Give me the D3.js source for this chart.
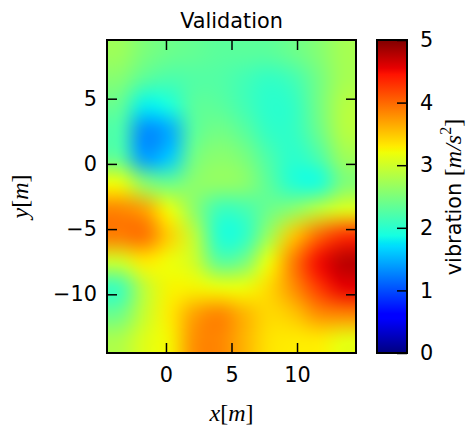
<!DOCTYPE html>
<html>
<head>
<meta charset="utf-8">
<script src="https://cdn.jsdelivr.net/npm/d3@7"></script>
<style>
body{margin:0;background:#fff}
text{font-family:"DejaVu Sans",sans-serif;fill:#000}
.math{font-family:"Liberation Serif",serif}
</style>
</head>
<body>
<svg id="chart" width="467" height="428"></svg>
<script>
// grid of vibration values (cell centres)
var xCenters = [-3.55, -1.65, 0.25, 2.15, 4.05, 5.95, 7.85, 9.75, 11.65, 13.55];
var yCenters = [8.5, 6.5, 4.5, 2.5, 0.5, -1.5, -3.5, -5.5, -7.5, -9.5, -11.5, -13.5];
var vibration = [
  [2.70, 2.50, 2.40, 2.35, 2.30, 2.30, 2.30, 2.40, 2.55, 2.75],
  [2.55, 2.30, 2.20, 2.25, 2.25, 2.15, 2.05, 2.15, 2.45, 2.75],
  [2.35, 1.80, 1.90, 2.30, 2.30, 2.15, 2.00, 2.05, 2.45, 2.85],
  [2.20, 1.30, 1.45, 2.30, 2.45, 2.30, 2.05, 2.05, 2.40, 2.85],
  [2.30, 1.40, 1.60, 2.45, 2.60, 2.50, 2.20, 2.00, 2.20, 2.70],
  [3.20, 2.60, 2.40, 2.60, 2.65, 2.60, 2.30, 1.95, 1.90, 2.50],
  [3.85, 3.70, 3.20, 2.60, 2.10, 2.15, 2.40, 2.60, 2.90, 3.10],
  [3.90, 3.95, 3.45, 2.90, 1.95, 2.00, 2.70, 3.50, 4.00, 4.30],
  [3.00, 3.30, 3.20, 3.00, 2.30, 2.45, 3.20, 3.90, 4.50, 4.75],
  [2.10, 2.90, 3.25, 3.25, 3.20, 3.20, 3.40, 3.80, 4.25, 4.55],
  [2.40, 2.95, 3.30, 3.70, 3.85, 3.60, 3.40, 3.50, 3.80, 3.85],
  [2.80, 3.10, 3.25, 3.80, 3.85, 3.60, 3.35, 3.30, 3.30, 3.15]
];
var xTicks = [0, 5, 10];
var yTicks = [5, 0, -5, -10];
var cTicks = [0, 1, 2, 3, 4, 5];
var cExtent = [0, 5];

var svg = d3.select('#chart');
var plot = {left:107, top:40, right:356, bottom:353};
var cbar = {left:377, right:407};

var dx = xCenters[1]-xCenters[0], dy = yCenters[0]-yCenters[1];
var xExtent = [xCenters[0]-dx/2, xCenters[xCenters.length-1]+dx/2];
var yExtent = [yCenters[yCenters.length-1]-dy/2, yCenters[0]+dy/2];

var x = d3.scaleLinear().domain(xExtent).range([plot.left, plot.right]);
var y = d3.scaleLinear().domain(yExtent).range([plot.bottom, plot.top]);
var c = d3.scaleLinear().domain(cExtent).range([plot.bottom, plot.top]);

// jet colormap, piecewise linear like matplotlib
function channel(pts){
  return d3.scaleLinear().domain(pts.map(function(p){return p[0]})).range(pts.map(function(p){return p[1]})).clamp(true);
}
var jr = channel([[0,0],[0.35,0],[0.66,1],[0.89,1],[1,0.5]]);
var jg = channel([[0,0],[0.125,0],[0.375,1],[0.64,1],[0.91,0],[1,0]]);
var jb = channel([[0,0.5],[0.11,1],[0.34,1],[0.65,0],[1,0]]);
var tScale = d3.scaleLinear().domain(cExtent).range([0,1]).clamp(true);
function jet(v){
  var t = tScale(v);
  return d3.rgb(255*jr(t), 255*jg(t), 255*jb(t));
}

// heat map: one pixel per cell, scaled up smoothly
var nx = xCenters.length, ny = yCenters.length;
var small = document.createElement('canvas');
small.width = nx; small.height = ny;
var sctx = small.getContext('2d');
var img = sctx.createImageData(nx, ny);
vibration.forEach(function(row, j){
  row.forEach(function(v, i){
    var col = jet(v), k = (j*nx+i)*4;
    img.data[k] = col.r; img.data[k+1] = col.g; img.data[k+2] = col.b; img.data[k+3] = 255;
  });
});
sctx.putImageData(img, 0, 0);

var pw = Math.round(x(xExtent[1])-x(xExtent[0])), ph = Math.round(y(yExtent[0])-y(yExtent[1]));
var big = document.createElement('canvas');
big.width = pw; big.height = ph;
var bctx = big.getContext('2d');
bctx.imageSmoothingEnabled = true;
bctx.imageSmoothingQuality = 'high';
bctx.drawImage(small, 0, 0, pw, ph);

svg.append('image')
  .attr('x', x(xExtent[0])).attr('y', y(yExtent[1]))
  .attr('width', pw).attr('height', ph)
  .attr('preserveAspectRatio', 'none')
  .attr('href', big.toDataURL());

// axes with inward ticks
function styleAxis(g){
  g.select('.domain').remove();
  g.selectAll('.tick line').attr('stroke','#000').attr('stroke-width',1.5);
  g.selectAll('.tick text').style('font-size','20.8px').style('font-family','"DejaVu Sans",sans-serif').attr('fill','#000');
}
svg.append('g').attr('transform','translate(0,'+plot.bottom+')')
  .call(d3.axisBottom(x).tickValues(xTicks).tickSize(-10).tickPadding(14))
  .call(styleAxis);
svg.append('g').attr('transform','translate(0,'+plot.top+')')
  .call(d3.axisTop(x).tickValues(xTicks).tickSize(-10).tickFormat(''))
  .call(styleAxis);
svg.append('g').attr('transform','translate('+plot.left+',0)')
  .call(d3.axisLeft(y).tickValues(yTicks).tickSize(-10).tickPadding(10))
  .call(styleAxis);
svg.append('g').attr('transform','translate('+plot.right+',0)')
  .call(d3.axisRight(y).tickValues(yTicks).tickSize(-10).tickFormat(''))
  .call(styleAxis);

svg.append('rect')
  .attr('x', plot.left).attr('y', plot.top)
  .attr('width', plot.right-plot.left).attr('height', plot.bottom-plot.top)
  .attr('fill','none').attr('stroke','#000').attr('stroke-width',2);

// colorbar
var stopsT = [0,0.11,0.125,0.34,0.35,0.375,0.64,0.65,0.66,0.89,0.91,1];
var grad = svg.append('defs').append('linearGradient')
  .attr('id','jetgrad').attr('x1',0).attr('y1',1).attr('x2',0).attr('y2',0);
grad.selectAll('stop').data(stopsT).enter().append('stop')
  .attr('offset', function(t){return t})
  .attr('stop-color', function(t){return jet(tScale.invert(t))});
svg.append('rect')
  .attr('x', cbar.left).attr('y', c(cExtent[1]))
  .attr('width', cbar.right-cbar.left).attr('height', c(cExtent[0])-c(cExtent[1]))
  .attr('fill','url(#jetgrad)');
svg.append('g').attr('transform','translate('+cbar.right+',0)')
  .call(d3.axisRight(c).tickValues(cTicks).tickSize(-10).tickPadding(13).tickFormat(d3.format('d')))
  .call(styleAxis);
svg.append('rect')
  .attr('x', cbar.left).attr('y', c(cExtent[1]))
  .attr('width', cbar.right-cbar.left).attr('height', c(cExtent[0])-c(cExtent[1]))
  .attr('fill','none').attr('stroke','#000').attr('stroke-width',2);

// titles and labels
svg.append('text').attr('x', (plot.left+plot.right)/2).attr('y', 28)
  .attr('text-anchor','middle').style('font-size','20.8px').text('Validation');

function mathLabel(sel, letter){
  sel.append('tspan').attr('font-style','italic').text(letter);
  sel.append('tspan').text('[');
  sel.append('tspan').attr('font-style','italic').text('m');
  sel.append('tspan').text(']');
}
svg.append('text').attr('class','math')
  .attr('x', (plot.left+plot.right)/2).attr('y', 421)
  .attr('text-anchor','middle').style('font-size','24px')
  .call(mathLabel, 'x');
svg.append('text').attr('class','math')
  .attr('transform','translate(28,'+((plot.top+plot.bottom)/2)+') rotate(-90)')
  .attr('text-anchor','middle').style('font-size','24px')
  .call(mathLabel, 'y');

var cl = svg.append('text')
  .attr('transform','translate(461,197) rotate(-90)')
  .attr('text-anchor','middle').style('font-size','20.8px');
cl.append('tspan').text('vibration ');
cl.append('tspan').attr('class','math').style('font-size','24px').text('[');
cl.append('tspan').attr('class','math').style('font-size','24px').attr('font-style','italic').text('m/s');
cl.append('tspan').attr('class','math').style('font-size','16px').attr('dy',-10).text('2');
cl.append('tspan').attr('class','math').style('font-size','24px').attr('dy',10).text(']');
</script>
</body>
</html>
